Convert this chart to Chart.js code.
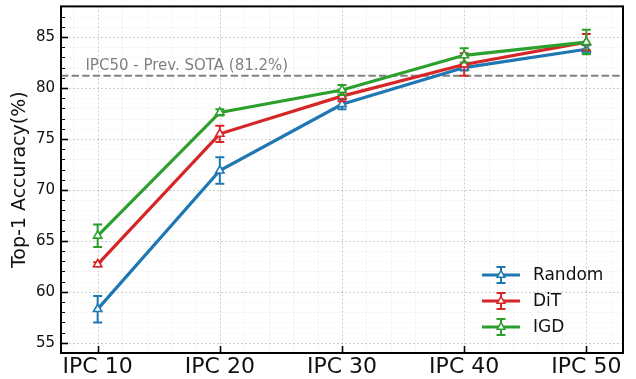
<!DOCTYPE html>
<html>
<head>
<meta charset="utf-8">
<script src="https://cdn.jsdelivr.net/npm/chart.js@4/dist/chart.umd.min.js"></script>
<style>
  html, body { margin: 0; padding: 0; background: #fff; }
  #contenedor { width: 636px; height: 379px; }
</style>
</head>
<body>
<div id="contenedor"><canvas id="grafica"></canvas></div>
<script>
// datos
var etiquetas = ['IPC 10', 'IPC 20', 'IPC 30', 'IPC 40', 'IPC 50'];
var posiciones = [0, 1, 2, 3, 4];
var yTicks = [55, 60, 65, 70, 75, 80, 85];

var randomAcc = [58.3, 71.9, 78.4, 82.0, 83.8];
var randomErr = [1.3, 1.3, 0.5, 0.3, 0.4];
var ditAcc = [62.7, 75.5, 79.2, 82.3, 84.5];
var ditErr = [0.2, 0.8, 0.5, 1.1, 0.8];
var igdAcc = [65.5, 77.6, 79.8, 83.2, 84.5];
var igdErr = [1.1, 0.3, 0.5, 0.7, 1.2];

var nombres = ['Random', 'DiT', 'IGD'];
var colores = ['#1f77b4', '#d62728', '#2ca02c'];

var sotaValor = 81.2;
var sotaTexto = 'IPC50 - Prev. SOTA (81.2%)';

var fuente = "'DejaVu Sans', sans-serif";

function puntos(valores) {
    var lista = [];
    for (var i = 0; i < valores.length; i++) {
        lista.push({ x: posiciones[i], y: valores[i] });
    }
    return lista;
}

var errores = [randomErr, ditErr, igdErr];

function triangulo(ctx, x, y, r) {
    var rad = 0;
    ctx.beginPath();
    ctx.moveTo(x + Math.sin(rad) * r, y - Math.cos(rad) * r);
    rad += Math.PI * 2 / 3;
    ctx.lineTo(x + Math.sin(rad) * r, y - Math.cos(rad) * r);
    rad += Math.PI * 2 / 3;
    ctx.lineTo(x + Math.sin(rad) * r, y - Math.cos(rad) * r);
    ctx.closePath();
}

function barraError(ctx, x, yArriba, yAbajo, color) {
    ctx.strokeStyle = color;
    ctx.lineWidth = 2;
    ctx.beginPath();
    ctx.moveTo(x, yArriba);
    ctx.lineTo(x, yAbajo);
    ctx.moveTo(x - 4.5, yArriba);
    ctx.lineTo(x + 4.5, yArriba);
    ctx.moveTo(x - 4.5, yAbajo);
    ctx.lineTo(x + 4.5, yAbajo);
    ctx.stroke();
}

var extras = {
    id: 'extras',
    beforeDatasetsDraw: function (chart) {
        var ctx = chart.ctx, a = chart.chartArea;
        var xs = chart.scales.x, ys = chart.scales.y;
        ctx.save();
        // rejilla menor y mayor
        ctx.setLineDash([2, 2]);
        for (var v = 54; v <= 88; v++) {
            var py = Math.round(ys.getPixelForValue(v)) + 0.5;
            var mayor = (v % 5 === 0);
            ctx.strokeStyle = mayor ? 'rgba(0,0,0,0.22)' : 'rgba(0,0,0,0.09)';
            ctx.lineWidth = mayor ? 0.9 : 0.6;
            ctx.beginPath(); ctx.moveTo(a.left, py); ctx.lineTo(a.right, py); ctx.stroke();
        }
        for (var k = -1; k <= 21; k++) {
            var xv = k * 0.2;
            var px = Math.round(xs.getPixelForValue(xv)) + 0.5;
            if (px <= a.left || px >= a.right) continue;
            var mx = (k % 5 === 0);
            ctx.strokeStyle = mx ? 'rgba(0,0,0,0.22)' : 'rgba(0,0,0,0.12)';
            ctx.lineWidth = mx ? 0.9 : 0.6;
            ctx.beginPath(); ctx.moveTo(px, a.top); ctx.lineTo(px, a.bottom); ctx.stroke();
        }
        // linea SOTA
        var ps = ys.getPixelForValue(sotaValor);
        ctx.setLineDash([7.4, 3.2]);
        ctx.strokeStyle = '#808080';
        ctx.lineWidth = 2;
        ctx.beginPath(); ctx.moveTo(a.left, ps); ctx.lineTo(a.right, ps); ctx.stroke();
        ctx.setLineDash([]);
        ctx.fillStyle = '#808080';
        ctx.font = '15px ' + fuente;
        ctx.textAlign = 'left';
        ctx.textBaseline = 'alphabetic';
        ctx.fillText(sotaTexto, xs.getPixelForValue(-0.1), ps - 6);
        ctx.restore();
    },
    beforeDatasetDraw: function (chart, args) {
        var ctx = chart.ctx;
        var xs = chart.scales.x, ys = chart.scales.y;
        var ds = chart.data.datasets[args.index];
        var err = errores[args.index];
        ctx.save();
        for (var i = 0; i < ds.data.length; i++) {
            var px = xs.getPixelForValue(ds.data[i].x);
            barraError(ctx, px, ys.getPixelForValue(ds.data[i].y + err[i]),
                ys.getPixelForValue(ds.data[i].y - err[i]), colores[args.index]);
        }
        ctx.restore();
    },
    afterDraw: function (chart) {
        var ctx = chart.ctx, a = chart.chartArea;
        var xs = chart.scales.x, ys = chart.scales.y;
        ctx.save();
        ctx.strokeStyle = '#000';
        // marcas hacia dentro
        for (var v = 54; v <= 88; v++) {
            var py = Math.round(ys.getPixelForValue(v)) + 0.5;
            var largo = (v % 5 === 0) ? 7 : 4;
            ctx.lineWidth = (v % 5 === 0) ? 1.6 : 1;
            ctx.beginPath(); ctx.moveTo(a.left, py); ctx.lineTo(a.left + largo, py); ctx.stroke();
        }
        ctx.lineWidth = 1.6;
        for (var i = 0; i < posiciones.length; i++) {
            var px = Math.round(xs.getPixelForValue(posiciones[i])) + 0.5;
            ctx.beginPath(); ctx.moveTo(px, a.bottom); ctx.lineTo(px, a.bottom - 7); ctx.stroke();
        }
        // marco
        ctx.lineWidth = 2;
        ctx.strokeRect(a.left, a.top, a.right - a.left, a.bottom - a.top);

        // leyenda
        for (var j = 0; j < nombres.length; j++) {
            var ly = 275 + j * 26;
            ctx.strokeStyle = colores[j];
            ctx.lineWidth = 3;
            ctx.beginPath(); ctx.moveTo(482, ly); ctx.lineTo(520, ly); ctx.stroke();
            barraError(ctx, 501, ly - 8, ly + 8, colores[j]);
            triangulo(ctx, 501, ly, 4.5);
            ctx.fillStyle = '#fff';
            ctx.fill();
            ctx.lineWidth = 1.5;
            ctx.strokeStyle = colores[j];
            ctx.stroke();
            ctx.fillStyle = '#111';
            ctx.font = '17px ' + fuente;
            ctx.textAlign = 'left';
            ctx.textBaseline = 'middle';
            ctx.fillText(nombres[j], 533, ly + 1);
        }
        ctx.restore();
    }
};

function serie(i, valores, orden) {
    return {
        label: nombres[i],
        data: puntos(valores),
        borderColor: colores[i],
        backgroundColor: '#fff',
        borderWidth: 3.2,
        pointStyle: 'triangle',
        pointRadius: 4.8,
        pointHoverRadius: 4.8,
        pointBorderWidth: 1.6,
        pointBackgroundColor: '#fff',
        pointBorderColor: colores[i],
        tension: 0,
        order: orden
    };
}

var canvas = document.getElementById('grafica');
new Chart(canvas, {
    type: 'line',
    data: {
        datasets: [
            serie(0, randomAcc, 2),
            serie(1, ditAcc, 1),
            serie(2, igdAcc, 0)
        ]
    },
    options: {
        responsive: true,
        maintainAspectRatio: false,
        animation: false,
        layout: { padding: { top: 0, right: 13, left: 0, bottom: 0 } },
        plugins: { legend: { display: false }, tooltip: { enabled: false } },
        scales: {
            x: {
                type: 'linear',
                min: -0.3,
                max: 4.3,
                afterBuildTicks: function (s) {
                    s.ticks = posiciones.map(function (p) { return { value: p }; });
                },
                afterFit: function (s) {
                    s.height = 26;
                    s.paddingLeft = 0; s.paddingRight = 0;
                },
                ticks: {
                    font: { family: fuente, size: 22 },
                    color: '#111',
                    padding: 1,
                    maxRotation: 0,
                    callback: function (v) { return etiquetas[v]; }
                },
                grid: { display: false, drawTicks: false },
                border: { display: false }
            },
            y: {
                min: 54,
                max: 88,
                afterBuildTicks: function (s) {
                    s.ticks = yTicks.map(function (t) { return { value: t }; });
                },
                afterFit: function (s) {
                    s.width = 61;
                    s.paddingTop = 0; s.paddingBottom = 0;
                },
                ticks: {
                    font: { family: fuente, size: 15 },
                    color: '#111',
                    padding: 6
                },
                grid: { display: false, drawTicks: false },
                border: { display: false },
                title: {
                    display: true,
                    text: 'Top-1 Accuracy(%)',
                    font: { family: fuente, size: 19 },
                    color: '#111',
                    padding: { top: 9, bottom: 0 }
                }
            }
        }
    },
    plugins: [extras]
});
</script>
</body>
</html>
